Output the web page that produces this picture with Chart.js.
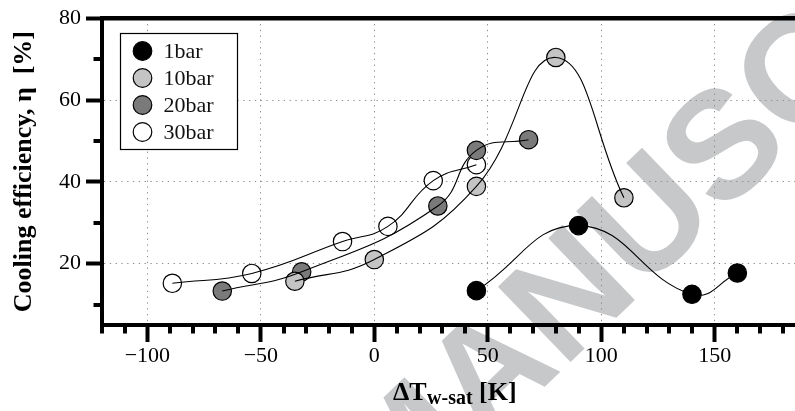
<!DOCTYPE html>
<html>
<head>
<meta charset="utf-8">
<script src="https://cdn.jsdelivr.net/npm/chart.js@4.4.0/dist/chart.umd.min.js"></script>
<style>
  html, body { margin: 0; padding: 0; background: #fff; }
  canvas { display: block; }
</style>
</head>
<body>
<canvas id="c" width="795" height="411"></canvas>
<script>
// Cooling efficiency vs. wall superheat, one series per chamber pressure
const seriesLabels = ['1bar', '10bar', '20bar', '30bar'];
const seriesFills = ['#000000', '#c4c4c4', '#7a7a7a', '#ffffff'];

const dT_1bar = [45, 90, 140, 160];
const eta_1bar = [13.4, 29.3, 12.5, 17.7];

const dT_10bar = [-35, 0, 45, 80, 110];
const eta_10bar = [15.7, 21.0, 38.9, 70.4, 36.1];

const dT_20bar = [-67, -32, 28, 45, 68];
const eta_20bar = [13.3, 18.0, 34.1, 47.7, 50.3];

const dT_30bar = [-89, -54, -14, 6, 26, 45];
const eta_30bar = [15.2, 17.6, 25.4, 29.1, 40.3, 44.2];

const xMajorTicks = [-100, -50, 0, 50, 100, 150];
const xMinorTicks = [-120, -110, -90, -80, -70, -60, -40, -30, -20, -10, 10, 20, 30, 40, 60, 70, 80, 90, 110, 120, 130, 140, 160, 170, 180];
const yMajorTicks = [20, 40, 60, 80];
const yMinorTicks = [10, 30, 50, 70];

const yTitle = 'Cooling efficiency, \u03b7  [%]';
const xTitleMain = '\u0394T';
const xTitleSub = 'w-sat';
const xTitleUnit = ' [K]';
const watermarkText = 'ACCEPTED MANUSCRIPT';

const SERIF = '"Liberation Serif", "Times New Roman", serif';

function toPoints(xs, ys) { return xs.map((x, i) => ({ x: x, y: ys[i] })); }

const seriesData = [
  toPoints(dT_1bar, eta_1bar),
  toPoints(dT_10bar, eta_10bar),
  toPoints(dT_20bar, eta_20bar),
  toPoints(dT_30bar, eta_30bar)
];

const datasets = [];
// smooth fit curves, drawn above the markers
seriesData.forEach((pts, i) => {
  datasets.push({
    label: seriesLabels[i] + ' fit',
    isCurve: true,
    data: pts,
    showLine: true,
    pointRadius: 0,
    pointHoverRadius: 0,
    borderColor: '#000',
    borderWidth: 1.1,
    tension: 0.45,
    fill: false,
    order: 0
  });
});
// measured points
seriesData.forEach((pts, i) => {
  datasets.push({
    label: seriesLabels[i],
    isCurve: false,
    data: pts,
    showLine: false,
    pointRadius: 9.2,
    pointHoverRadius: 9.2,
    pointBackgroundColor: seriesFills[i],
    pointBorderColor: '#000',
    pointBorderWidth: 1.2,
    order: 1
  });
});

const minusFmt = v => (v < 0 ? '\u2212' + Math.abs(v) : String(v));

// light diagonal stamp behind the plot
const watermarkPlugin = {
  id: 'watermark',
  beforeDraw(chart) {
    const ctx = chart.ctx;
    ctx.save();
    ctx.fillStyle = '#ffffff';
    ctx.fillRect(0, 0, chart.width, chart.height);
    const size = 152;
    ctx.font = 'bold ' + size + 'px "Liberation Sans", Arial, sans-serif';
    const lead = ctx.measureText('ACCEPTED M').width + ctx.measureText('A').width / 2;
    ctx.translate(486, 368);
    ctx.rotate(-44 * Math.PI / 180);
    ctx.fillStyle = 'rgb(199,200,202)';
    ctx.textBaseline = 'alphabetic';
    ctx.textAlign = 'left';
    ctx.fillText(watermarkText, -lead, 0.716 * size / 2);
    ctx.restore();
  }
};

// frame line on top, minor ticks, x title and legend
const framePlugin = {
  id: 'frame',
  afterDraw(chart) {
    const ctx = chart.ctx;
    const area = chart.chartArea;
    const xs = chart.scales.x;
    const ys = chart.scales.y;
    ctx.save();
    ctx.strokeStyle = '#000';
    ctx.lineCap = 'butt';

    // top frame line
    ctx.lineWidth = 4.5;
    ctx.beginPath();
    ctx.moveTo(area.left - 2, area.top);
    ctx.lineTo(chart.width, area.top);
    ctx.stroke();

    // minor ticks
    ctx.lineWidth = 4;
    xMinorTicks.forEach(v => {
      const px = Math.round(xs.getPixelForValue(v));
      ctx.beginPath();
      ctx.moveTo(px, area.bottom);
      ctx.lineTo(px, area.bottom + 8.5);
      ctx.stroke();
    });
    yMinorTicks.forEach(v => {
      const py = Math.round(ys.getPixelForValue(v));
      ctx.beginPath();
      ctx.moveTo(area.left - 8.5, py);
      ctx.lineTo(area.left, py);
      ctx.stroke();
    });

    // x axis title with subscript
    ctx.fillStyle = '#000';
    ctx.textBaseline = 'alphabetic';
    ctx.textAlign = 'left';
    const mainFont = 'bold 26px ' + SERIF;
    const subFont = 'bold 20px ' + SERIF;
    ctx.font = mainFont;
    const w1 = ctx.measureText(xTitleMain).width;
    const w3 = ctx.measureText(xTitleUnit).width;
    ctx.font = subFont;
    const w2 = ctx.measureText(xTitleSub).width;
    const cx = (area.left + area.right) / 2 + 6;
    let tx = cx - (w1 + w2 + w3) / 2;
    const base = 399.5;
    ctx.font = mainFont;
    ctx.fillText(xTitleMain, tx, base);
    tx += w1 + 0.5;
    ctx.font = subFont;
    ctx.fillText(xTitleSub, tx, base + 4);
    tx += w2;
    ctx.font = mainFont;
    ctx.fillText(xTitleUnit, tx, base);

    // legend box
    const bx = 120.5, by = 33.5, bw = 117, bh = 116;
    ctx.fillStyle = '#fff';
    ctx.fillRect(bx, by, bw, bh);
    ctx.lineWidth = 1.2;
    ctx.strokeStyle = '#000';
    ctx.strokeRect(bx, by, bw, bh);
    const markers = chart.data.datasets.filter(d => !d.isCurve);
    ctx.font = '22px ' + SERIF;
    markers.forEach((d, i) => {
      const cy = 51 + i * 27;
      ctx.beginPath();
      ctx.arc(142.5, cy, 9.3, 0, Math.PI * 2);
      ctx.fillStyle = d.pointBackgroundColor;
      ctx.fill();
      ctx.lineWidth = 1.2;
      ctx.strokeStyle = '#000';
      ctx.stroke();
      ctx.fillStyle = '#111';
      ctx.fillText(d.label, 163.5, cy + 7);
    });
    ctx.restore();
  }
};

new Chart(document.getElementById('c'), {
  type: 'scatter',
  data: { datasets: datasets },
  options: {
    responsive: false,
    animation: false,
    devicePixelRatio: 1,
    layout: { autoPadding: false, padding: { top: 15, left: 0, right: 0, bottom: 0 } },
    plugins: {
      legend: { display: false },
      tooltip: { enabled: false }
    },
    scales: {
      x: {
        type: 'linear',
        position: 'bottom',
        min: -120,
        max: 185.4,
        afterBuildTicks: s => { s.ticks = xMajorTicks.map(v => ({ value: v })); },
        afterFit: s => { s.height = 86; },
        ticks: {
          callback: v => minusFmt(v),
          font: { family: SERIF, size: 22 },
          color: '#000',
          padding: 1,
          maxRotation: 0,
          autoSkip: false
        },
        grid: {
          color: '#8c8c8c',
          lineWidth: 1,
          drawTicks: true,
          tickLength: 17,
          tickWidth: 4,
          tickColor: '#000'
        },
        border: { display: true, color: '#000', width: 4, dash: [1.3, 4.5] }
      },
      y: {
        type: 'linear',
        position: 'left',
        min: 5,
        max: 80,
        afterBuildTicks: s => { s.ticks = yMajorTicks.map(v => ({ value: v })); },
        afterFit: s => { s.width = 102; },
        ticks: {
          callback: v => minusFmt(v),
          font: { family: SERIF, size: 22 },
          color: '#000',
          padding: 5,
          autoSkip: false
        },
        grid: {
          color: '#8c8c8c',
          lineWidth: 1,
          drawTicks: true,
          tickLength: 16,
          tickWidth: 4,
          tickColor: '#000'
        },
        border: { display: true, color: '#000', width: 4, dash: [1.3, 4.5] },
        title: {
          display: true,
          text: yTitle,
          color: '#000',
          font: { family: SERIF, size: 26, weight: 'bold', lineHeight: 1.2 },
          padding: { top: 9, bottom: 0 }
        }
      }
    }
  },
  plugins: [watermarkPlugin, framePlugin]
});
</script>
</body>
</html>
